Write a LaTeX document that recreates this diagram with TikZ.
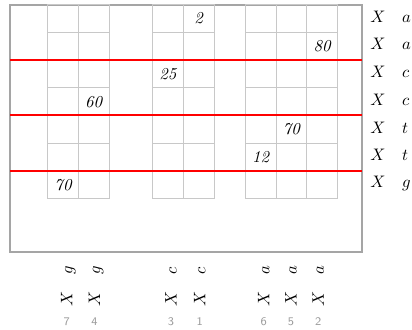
\documentclass[tikz,border=0pt]{standalone}
\usepackage{tikz}
\usepackage{xcolor}
\definecolor{gridc}{RGB}{200,200,200}
\definecolor{framec}{RGB}{165,165,165}
\definecolor{idxc}{RGB}{155,155,155}
\tikzset{
  cell/.style={draw=gridc, line width=0.6pt},
  frame/.style={draw=framec, line width=1.1pt},
  cut/.style={draw=red, line width=0.9pt},
  val/.style={font=\itshape, inner sep=0pt},
  rowlab/.style={anchor=west, inner sep=0pt},
  collab/.style={rotate=90, anchor=west, inner sep=0pt},
  idx/.style={font=\scriptsize\sffamily, text=idxc, inner sep=0pt}
}
\begin{document}
\begin{tikzpicture}[x=0.6pt, y=-0.6pt]
  \useasboundingbox (0,0) rectangle (412,330);

  \draw[frame] (10,4.7) rectangle (361.7,252);

  % the three blocks of cells
  \foreach \x in {47.7,78.3,152.3,183.3,245.3,276,306.7}
    \foreach \r in {0,...,6}
      \draw[cell] (\x,{4.7+27.75*\r}) rectangle ++(30.7,27.75);

  % red cuts between the pairs of rows
  \coordinate (cutA) at (10,60.2);
  \coordinate (cutB) at (10,115.2);
  \coordinate (cutC) at (10,171.2);
  \draw[cut] (cutA) -- ++(351.7,0);
  \draw[cut] (cutB) -- ++(351.7,0);
  \draw[cut] (cutC) -- ++(351.7,0);

  \node[val] (v1) at (198.7,18.6) {2};
  \node[val] (v2) at (322.2,46.3) {80};
  \node[val] (v3) at (167.8,74.1) {25};
  \node[val] (v4) at (93.7,101.8) {60};
  \node[val] (v5) at (291.3,129.6) {70};
  \node[val] (v6) at (260.7,157.3) {12};
  \node[val] (v7) at (63,185.1) {70};

  \newcommand{\seqrow}[3]{
    \node[rowlab] (row#1) at (370,#2) {$X\quad #3$};
  }
  \seqrow{1}{16.6}{a}
  \seqrow{2}{44.3}{a}
  \seqrow{3}{72.1}{c}
  \seqrow{4}{99.8}{c}
  \seqrow{5}{127.6}{t}
  \seqrow{6}{155.3}{t}
  \seqrow{7}{183.1}{g}

  \newcommand{\seqcol}[4]{
    \node[collab] (col#1) at (#2,307) {$X\quad #3$};
    \node[idx] (idx#1) at (#4,321.7) {#1};
  }
  \seqcol{7}{68.3}{g}{66.7}
  \seqcol{4}{96.1}{g}{94.5}
  \seqcol{3}{171}{c}{171}
  \seqcol{1}{199.7}{c}{199.7}
  \seqcol{6}{263.8}{a}{263.8}
  \seqcol{5}{291}{a}{291}
  \seqcol{2}{318.3}{a}{318.3}
\end{tikzpicture}
\end{document}
